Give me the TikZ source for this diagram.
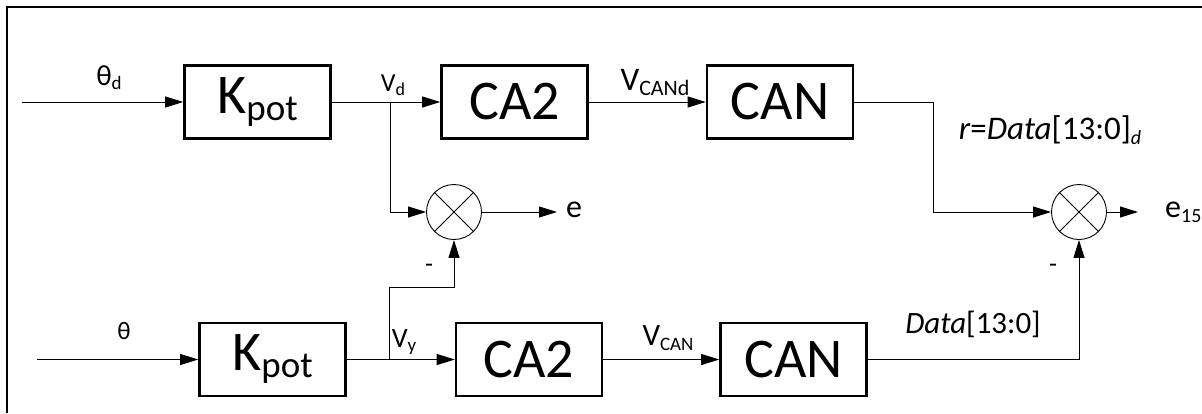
\documentclass[tikz,border=0pt]{standalone}
\usepackage{fontspec}
\setmainfont{Carlito}
\usetikzlibrary{arrows.meta}
\newcommand{\fsz}[1]{\fontsize{#1}{#1}\selectfont}
\begin{document}
\begin{tikzpicture}[x=1pt,y=-1pt,
  blk/.style={draw,line width=2.6pt,minimum width=146pt,minimum height=73pt,inner sep=0pt,font=\fsz{56}},
  sumc/.style={draw,circle,line width=0.9pt,minimum size=55pt,inner sep=0pt},
  arr/.style={line width=1pt,-{Triangle[length=18pt,width=11pt]}},
  lbl/.style={inner sep=0pt,font=\fsz{24}}
]
\useasboundingbox (0,0) rectangle (1202,413);
% frame (cropped)
\draw[line width=2.6pt] (7,413) -- (7,7) -- (1202,7);

% top row
\node[blk] (k1) at (257.5,102) {K\raisebox{-7pt}{\fsz{37}pot}};
\node[blk] (ca1) at (514.5,102) {CA2};
\node[blk] (can1) at (780,102) {CAN};
% bottom row
\node[blk] (k2) at (272.5,359.5) {K\raisebox{-7pt}{\fsz{37}pot}};
\node[blk] (ca2) at (529,359.5) {CA2};
\node[blk] (can2) at (793.5,359.5) {CAN};
% summing junctions
\node[sumc] (s1) at (454,212) {};
\draw[line width=0.9pt] (s1.north west) -- (s1.south east) (s1.north east) -- (s1.south west);
\node[sumc] (s2) at (1079,212) {};
\draw[line width=0.9pt] (s2.north west) -- (s2.south east) (s2.north east) -- (s2.south west);

% coordinates
\coordinate (in1) at (22,102);
\coordinate (in2) at (37,359.5);
\coordinate (j1) at (390,102);
\coordinate (j2) at (389,359.5);
\coordinate (m1) at (389,287);
\coordinate (c1) at (933,102);
\coordinate (eo1) at (557,212);
\coordinate (eo2) at (1138,212);

% connectors
\draw[arr] (in1) -- (k1);
\draw[arr] (k1) -- (ca1);
\draw[arr] (ca1) -- (can1);
\draw[arr] (j1) |- (s1.west);
\draw[arr] (can1.east) -- (c1) |- (s2.west);
\draw[arr] (s1.east) -- (eo1);
\draw[arr] (in2) -- (k2);
\draw[arr] (k2) -- (ca2);
\draw[arr] (j2) -- (m1) -| (s1.south);
\draw[arr] (ca2) -- (can2);
\draw[arr] (can2.east) -| (s2.south);
\draw[arr] (s2.east) -- (eo2);

% labels
\node[lbl,font=\fsz{29}] (lthd) at (109,78) {θ\raisebox{-4pt}{\fsz{19}d}};
\node[lbl,font=\fsz{26}] (lvd) at (393,85) {V\raisebox{-4pt}{\fsz{18}d}};
\node[lbl,font=\fsz{33}] (lvcand) at (655,82) {V\raisebox{-5pt}{\fsz{22}CANd}};
\node[lbl,font=\fsz{33}] (lr) at (1050,130) {\textit{r}=\textit{Data}[13:0]\raisebox{-5pt}{\fsz{20}\textit{d}}};
\node[lbl,font=\fsz{32},anchor=west] (le) at (566,210) {e};
\node[lbl,font=\fsz{32},anchor=west] (le15) at (1165,212) {e\raisebox{-5pt}{\fsz{20}15}};
\node[lbl,font=\fsz{26}] (lm1) at (429,268) {-};
\node[lbl,font=\fsz{26}] (lm2) at (1053,268) {-};
\node[lbl,font=\fsz{25}] (lth) at (124,331) {θ};
\node[lbl,font=\fsz{28}] (lvy) at (404,342) {V\raisebox{-4pt}{\fsz{19}y}};
\node[lbl,font=\fsz{31}] (lvcan) at (668,338) {V\raisebox{-5pt}{\fsz{19}CAN}};
\node[lbl,font=\fsz{31}] (ldata) at (973,324) {\textit{Data}[13:0]};
\end{tikzpicture}
\end{document}
